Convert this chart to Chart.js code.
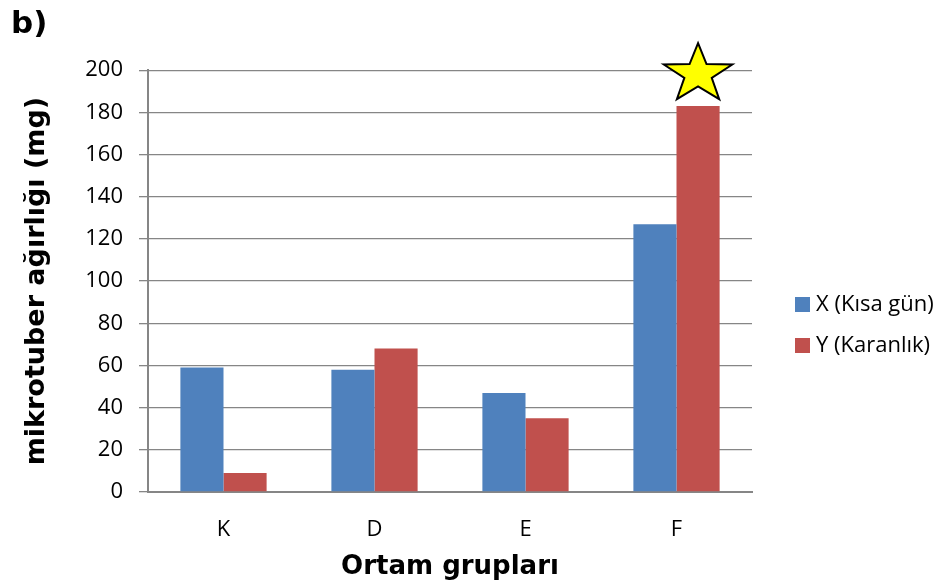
<!DOCTYPE html>
<html>
<head>
<meta charset="utf-8">
<script src="https://cdn.jsdelivr.net/npm/chart.js@4.4.1/dist/chart.umd.min.js"></script>
<style>
    html, body { margin: 0; padding: 0; background: #fff; }
    #wrap { width: 943px; height: 588px; }
</style>
</head>
<body>
<div id="wrap"><canvas id="tuberChart" width="943" height="588"></canvas></div>
<script>
// data
const groups = ['K', 'D', 'E', 'F'];
const shortDay = [59, 58, 47, 127];   // X (Kısa gün)
const darkness = [9, 68, 35, 183];    // Y (Karanlık)
const seriesNames = ['X (Kısa gün)', 'Y (Karanlık)'];
const yMax = 200;
const yStep = 20;
const starGroup = 'F';

Chart.defaults.font.family = '"Open Sans", sans-serif';
Chart.defaults.color = '#000';

const boldFont = (size) => ({ family: '"DejaVu Sans", Verdana, sans-serif', size: size, weight: 'bold' });

// legend on the right, drawn by hand so it sits where the original does
const sideLegend = {
    id: 'sideLegend',
    afterDraw(chart) {
        const ctx = chart.ctx;
        const area = chart.chartArea;
        ctx.save();
        ctx.font = '22px "Open Sans"';
        ctx.textBaseline = 'middle';
        chart.data.datasets.forEach((ds, i) => {
            const y = 304 + i * 41;
            ctx.fillStyle = ds.backgroundColor;
            ctx.fillRect(area.right + 43, y - 7, 15, 15);
            ctx.fillStyle = '#000';
            ctx.fillText(ds.label, area.right + 64, y + 1);
        });
        ctx.restore();
    }
};

// yellow star over the tallest bar
const starMark = {
    id: 'starMark',
    afterDatasetsDraw(chart) {
        const bar = chart.getDatasetMeta(1).data[groups.indexOf(starGroup)];
        const ctx = chart.ctx;
        const rx = 36, ry = 31, inner = 0.4;
        const cx = bar.x, cy = bar.y - 32;
        ctx.save();
        ctx.beginPath();
        for (let i = 0; i < 10; i++) {
            const r = i % 2 === 0 ? 1 : inner;
            const a = -Math.PI / 2 + i * Math.PI / 5;
            const px = cx + Math.cos(a) * rx * r;
            const py = cy + Math.sin(a) * ry * r;
            if (i === 0) ctx.moveTo(px, py); else ctx.lineTo(px, py);
        }
        ctx.closePath();
        ctx.fillStyle = '#FFFF00';
        ctx.fill();
        ctx.lineWidth = 2;
        ctx.strokeStyle = '#000';
        ctx.stroke();
        ctx.restore();
    }
};

const ctx = document.getElementById('tuberChart').getContext('2d');
new Chart(ctx, {
    type: 'bar',
    data: {
        labels: groups,
        datasets: [
            {
                label: seriesNames[0],
                data: shortDay,
                backgroundColor: '#4F81BD',
                categoryPercentage: 0.571,
                barPercentage: 1
            },
            {
                label: seriesNames[1],
                data: darkness,
                backgroundColor: '#C0504D',
                categoryPercentage: 0.571,
                barPercentage: 1
            }
        ]
    },
    options: {
        responsive: false,
        animation: false,
        layout: {
            padding: { left: 11, right: 191, top: 0, bottom: 0 }
        },
        plugins: {
            legend: { display: false },
            tooltip: { enabled: false },
            title: {
                display: true,
                text: 'b)',
                align: 'start',
                color: '#000',
                font: boldFont(31),
                padding: { top: 6, bottom: 27 }
            }
        },
        scales: {
            x: {
                grid: { display: false, drawTicks: false },
                border: { color: '#868686', width: 2 },
                ticks: { padding: 25, font: { size: 22 } },
                title: {
                    display: true,
                    text: 'Ortam grupları',
                    font: boldFont(26),
                    padding: { top: 0, bottom: 5 }
                },
                afterFit(scale) { scale.height = 96; }
            },
            y: {
                min: 0,
                max: yMax,
                ticks: { stepSize: yStep, padding: 16, font: { size: 22 } },
                grid: { color: '#868686', lineWidth: 1.3, tickLength: 9 },
                border: { color: '#868686', width: 2 },
                title: {
                    display: true,
                    text: 'mikrotuber ağırlığı (mg)',
                    font: boldFont(27),
                    padding: { top: 10, bottom: 0 }
                },
                afterFit(scale) { scale.width = 137; }
            }
        }
    },
    plugins: [starMark, sideLegend]
});
</script>
</body>
</html>
